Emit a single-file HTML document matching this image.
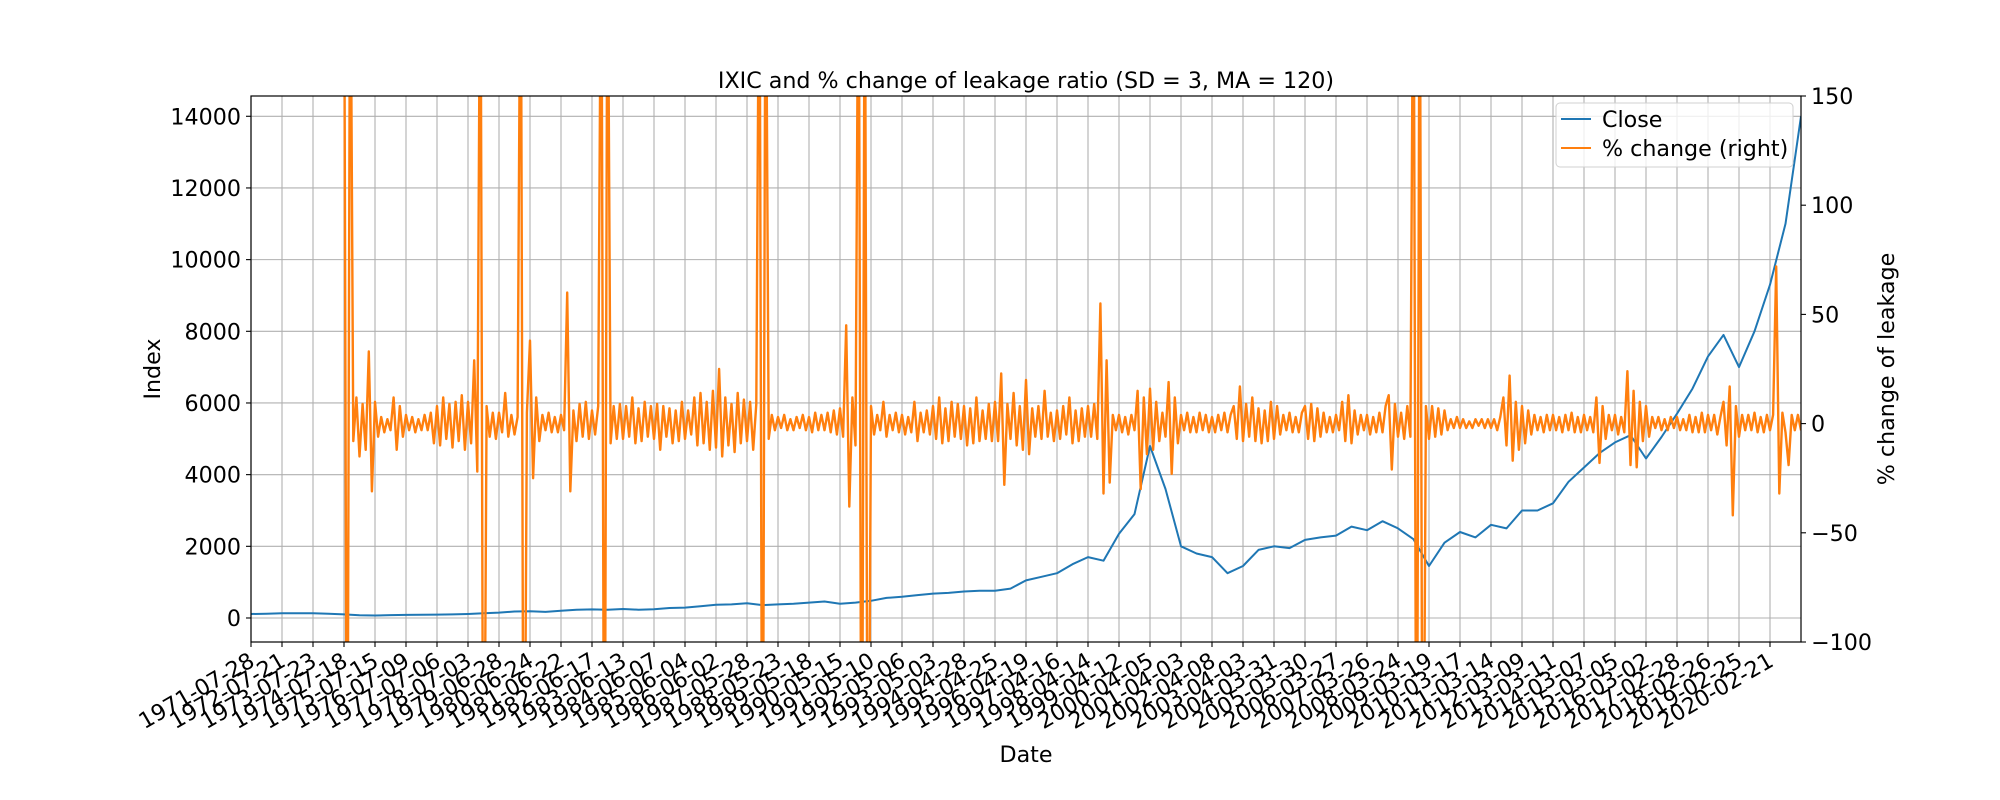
<!DOCTYPE html>
<html><head><meta charset="utf-8"><style>
html,body{margin:0;padding:0;background:#fff;width:2000px;height:800px;overflow:hidden;}
svg{display:block;font-family:"DejaVu Sans","Liberation Sans",sans-serif;}
</style></head><body>
<svg id="chart" width="2000" height="800" xmlns="http://www.w3.org/2000/svg">
<defs><clipPath id="plotclip"><rect x="251" y="96" width="1550" height="546"/></clipPath></defs>
<rect x="0" y="0" width="2000" height="800" fill="#fff"/>
<g id="grid"></g>
<g id="series" clip-path="url(#plotclip)"></g>
<g id="axes"></g>
<text x="1026" y="88" font-size="22.2" text-anchor="middle">IXIC and % change of leakage ratio (SD = 3, MA = 120)</text>
<text x="1026" y="762" font-size="22.2" text-anchor="middle">Date</text>
<text x="0" y="0" font-size="22.2" text-anchor="middle" transform="translate(160,369) rotate(-90)">Index</text>
<text x="0" y="0" font-size="22.2" text-anchor="middle" transform="translate(1894,369) rotate(-90)">% change of leakage</text>
<g>
<rect x="1556" y="103" width="237" height="64" rx="4" fill="#fff" fill-opacity="0.8" stroke="#d0d0d0" stroke-width="1"/>
<g>
<line x1="1561" y1="119" x2="1591" y2="119" stroke="#1f77b4" stroke-width="2"/>
<text x="1602" y="127" font-size="22.2">Close</text></g>
<g>
<line x1="1561" y1="148" x2="1591" y2="148" stroke="#ff7f0e" stroke-width="2"/>
<text x="1602" y="156" font-size="22.2">% change (right)</text></g>
</g>
</svg>
<script>
const xTickLabels = ["1971-07-28","1972-07-21","1973-07-23","1974-07-18","1975-07-15","1976-07-09","1977-07-06","1978-07-03","1979-06-28","1980-06-24","1981-06-22","1982-06-17","1983-06-13","1984-06-07","1985-06-04","1986-06-02","1987-05-28","1988-05-23","1989-05-18","1990-05-15","1991-05-10","1992-05-06","1993-05-03","1994-04-28","1995-04-25","1996-04-19","1997-04-16","1998-04-14","1999-04-12","2000-04-05","2001-04-03","2002-04-08","2003-04-03","2004-03-31","2005-03-30","2006-03-27","2007-03-26","2008-03-24","2009-03-19","2010-03-17","2011-03-14","2012-03-09","2013-03-11","2014-03-07","2015-03-05","2016-03-02","2017-02-28","2018-02-26","2019-02-25","2020-02-21"];
const yLeftTicks = [0,2000,4000,6000,8000,10000,12000,14000];
const yRightTicks = [-100,-50,0,50,100,150];
// Close, sampled every half tick-interval from t=0
const closeValues = [110,120,130,130,130,120,100,75,70,80,85,90,95,100,110,130,150,180,190,170,200,230,240,230,250,230,245,280,290,330,370,380,410,360,380,400,430,460,400,430,480,560,590,640,680,700,740,760,760,820,1050,1150,1250,1500,1700,1600,2350,2900,4800,3600,2000,1800,1700,1250,1450,1900,2000,1950,2180,2250,2300,2550,2450,2700,2500,2200,1450,2100,2400,2250,2600,2500,3000,3000,3200,3800,4200,4600,4900,5100,4450,5050,5700,6400,7300,7900,7000,8000,9300,11000,14000];
// % change, sampled every tenth tick-interval starting at t=3.0
const pctValues = [
250,-250,250,-8,12,-15,9,-12,33,-31,
10,-6,3,-4,2,-3,12,-12,8,-6,
4,-3,3,-4,2,-3,4,-3,5,-9,
8,-10,12,-7,9,-11,10,-8,13,-12,
10,-9,29,-22,250,-250,8,-6,5,-7,
5,-4,14,-6,4,-5,3,250,-250,5,
38,-25,12,-8,4,-3,5,-4,3,-4,
4,-3,60,-31,6,-8,9,-6,10,-7,
6,-5,8,250,-250,250,-9,8,-7,9,
-7,8,-6,12,-9,7,-8,10,-6,8,
-7,9,-12,8,-6,7,-9,6,-8,10,
-7,6,-5,12,-10,14,-9,10,-12,15,
-11,25,-15,12,-10,9,-13,14,-9,11,
-8,10,-12,9,250,-250,250,-7,4,-3,
3,-2,4,-3,2,-3,3,-2,4,-3,
3,-4,5,-3,4,-3,5,-4,6,-5,
7,-6,45,-38,12,-10,250,-250,250,-250,
8,-5,4,-3,10,-6,4,-3,5,-4,
4,-5,3,-4,10,-8,5,-4,6,-5,
8,-7,12,-9,7,-8,10,-6,9,-7,
8,-10,7,-9,12,-8,6,-7,9,-8,
10,-8,23,-28,9,-7,14,-10,8,-12,
20,-14,7,-6,8,-7,15,-6,5,-8,
6,-7,8,-5,12,-9,6,-8,7,-6,
8,-6,9,-7,55,-32,29,-27,4,-3,
4,-4,3,-5,4,-3,15,-30,12,-14,
16,-12,10,-8,5,-6,19,-23,12,-9,
4,-3,5,-4,3,-4,5,-3,4,-4,
3,-4,4,-3,5,-4,4,8,-7,17,
-8,9,-6,12,-8,7,-9,6,-8,10,
-7,8,-5,4,-3,5,-4,3,-4,5,
8,-7,9,-8,7,-6,5,-4,3,-4,
4,-3,10,-8,13,-9,6,-5,4,-3,
4,-5,3,-4,5,-4,8,13,-21,9,
-6,5,-7,8,-6,250,-250,250,-250,8,
-7,8,-6,7,-5,6,-3,2,-2,3,
-2,2,-2,1,-2,2,-1,2,-2,2,
-2,2,-3,3,12,-10,22,-17,10,-12,
8,-9,6,-5,4,-3,3,-4,4,-3,
4,-3,3,-4,4,-3,5,-4,3,-4,
4,-3,3,-4,12,-18,8,-7,4,-3,
4,-5,3,-4,24,-19,15,-20,10,-8,
8,-6,3,-2,3,-3,2,-3,3,-2,
3,-3,2,-3,4,-4,3,-4,5,-4,
4,-3,4,-5,3,10,-10,17,-42,8,
-6,4,-3,4,-3,5,-4,3,-4,4,
-3,4,72,-32,5,-4,-19,4,-3,4,
-3];
const closeStep = 0.5, pctStart = 3.0, pctStep = 0.1;

const L=251,R=1801,T=96,B=642;
const xMax = 50;
const yLmin=-670,yLmax=14566, yRmin=-100,yRmax=150;
const sx = t => L + (t/xMax)*(R-L);
const syL = v => B - (v-yLmin)/(yLmax-yLmin)*(B-T);
const syR = v => B - (v-yRmin)/(yRmax-yRmin)*(B-T);
const NS="http://www.w3.org/2000/svg";
function mk(tag, attrs, parent){const e=document.createElementNS(NS,tag);for(const k in attrs)e.setAttribute(k,attrs[k]);parent.appendChild(e);return e;}
const grid=document.getElementById('grid'), axes=document.getElementById('axes'), series=document.getElementById('series');

xTickLabels.forEach((lab,i)=>{
  const x=sx(i);
  const g=mk('line',{x1:x,y1:T,x2:x,y2:B,stroke:'#b0b0b0','stroke-width':1.1},grid);
  
  
  const tk=mk('line',{x1:x,y1:B,x2:x,y2:B+5,stroke:'#000','stroke-width':1.1},axes);
  
  
  const t=mk('text',{x:0,y:0,'font-size':22.2,'text-anchor':'end',transform:`translate(${x+5},${B+23}) rotate(-30)`},axes);
  t.textContent=lab;
  
  
});
yLeftTicks.forEach(v=>{
  const y=syL(v);
  const g=mk('line',{x1:L,y1:y,x2:R,y2:y,stroke:'#b0b0b0','stroke-width':1.1},grid);
  
  
  const tk=mk('line',{x1:L-5,y1:y,x2:L,y2:y,stroke:'#000','stroke-width':1.1},axes);
  
  
  const t=mk('text',{x:L-10,y:y+8,'font-size':22.2,'text-anchor':'end'},axes);
  t.textContent=String(v);
  
  
});
yRightTicks.forEach(v=>{
  const y=syR(v);
  const tk=mk('line',{x1:R,y1:y,x2:R+5,y2:y,stroke:'#000','stroke-width':1.1},axes);
  
  
  const t=mk('text',{x:R+10,y:y+8,'font-size':22.2,'text-anchor':'start'},axes);
  t.textContent=(v<0?'\u2212'+Math.abs(v):String(v));
  
  
});
const frame=mk('rect',{x:L,y:T,width:R-L,height:B-T,fill:'none',stroke:'#000','stroke-width':1.2},axes);



const cp=closeValues.map((v,i)=>`${sx(i*closeStep).toFixed(1)},${syL(v).toFixed(1)}`).join(' ');
const cl=mk('polyline',{points:cp,fill:'none',stroke:'#1f77b4','stroke-width':2,'stroke-linejoin':'round'},series);


const pp=pctValues.map((v,i)=>`${sx(pctStart+i*pctStep).toFixed(1)},${syR(v).toFixed(1)}`).join(' ');
const pl=mk('polyline',{points:pp,fill:'none',stroke:'#ff7f0e','stroke-width':2.4,'stroke-linejoin':'round'},series);


</script>
</body></html>
